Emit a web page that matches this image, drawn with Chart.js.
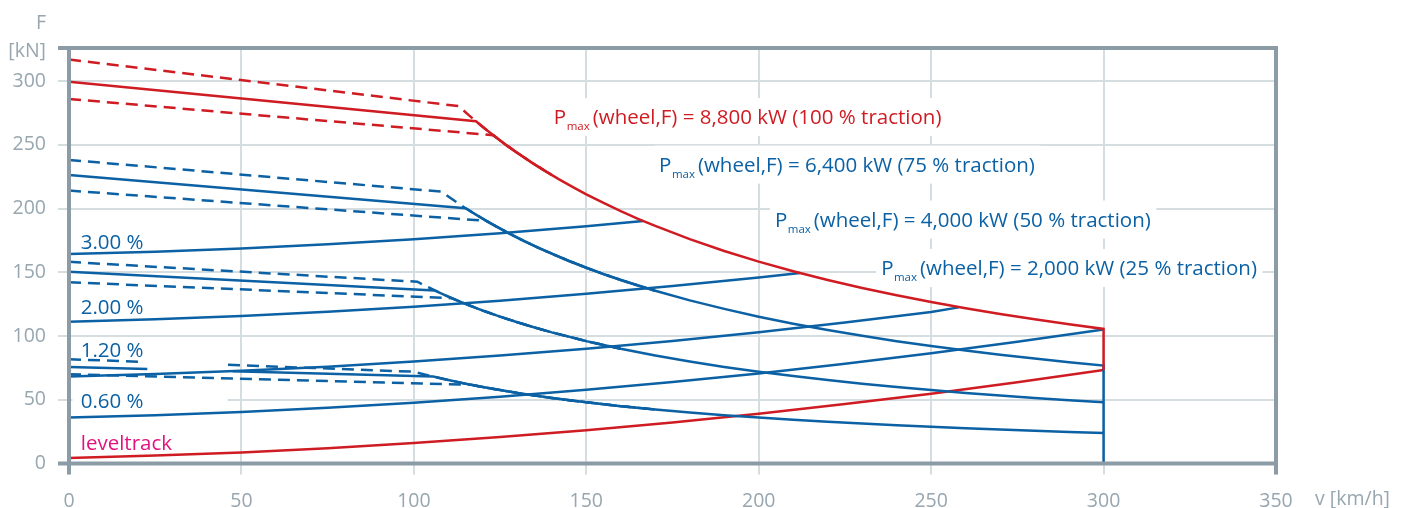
<!DOCTYPE html>
<html>
<head>
<meta charset="utf-8">
<title>Tractive effort diagram</title>
<script src="https://cdn.jsdelivr.net/npm/chart.js@4.4.1/dist/chart.umd.min.js"></script>
<style>
  html, body { margin: 0; background: #fff; }
  canvas { display: block; }
</style>
</head>
<body>
<canvas id="chartTraction" width="1405" height="508"></canvas>
<script>
// speeds in km/h, forces in kN

// 100 % traction (8,800 kW) with tolerance band
const RED_V    = [0, 118, 121, 124, 127, 130, 134, 138, 142, 146, 150, 155, 160, 165, 170, 180, 190, 200, 210, 220, 230, 240, 250, 260, 270, 280, 290, 300, 300];
const RED_F    = [299.5, 268.5, 261.8, 255.5, 249.4, 243.7, 236.4, 229.6, 223.1, 217.0, 211.2, 204.4, 198.0, 192.0, 186.4, 176.0, 166.7, 158.4, 150.9, 144.0, 137.7, 132.0, 126.7, 121.8, 117.3, 113.1, 109.2, 105.6, 73.4];
const RED_HI_V = [0, 113, 116, 120, 125, 130, 135, 140];
const RED_HI_F = [317.0, 280.4, 273.1, 264.0, 253.4, 243.7, 234.7, 226.3];
const RED_LO_V = [0, 123, 127, 130, 135, 140];
const RED_LO_F = [286.0, 257.6, 249.4, 243.7, 234.7, 226.3];

// 75 % traction (6,400 kW)
const B75_V    = [0, 115, 118, 121, 124, 128, 132, 136, 140, 145, 150, 155, 160, 170, 180, 190, 200, 210, 220, 230, 240, 250, 260, 270, 280, 290, 300, 300];
const B75_F    = [226.4, 200.3, 195.3, 190.4, 185.8, 180.0, 174.5, 169.4, 164.6, 158.9, 153.6, 148.6, 144.0, 135.5, 128.0, 121.3, 115.2, 109.7, 104.7, 100.2, 96.0, 92.2, 88.6, 85.3, 82.3, 79.4, 76.8, 0];
const B75_HI_V = [0, 108, 112, 115, 118, 121, 124, 128, 132, 136, 140, 145, 150, 155, 160, 165, 170];
const B75_HI_F = [238.2, 213.3, 205.7, 200.3, 195.3, 190.4, 185.8, 180.0, 174.5, 169.4, 164.6, 158.9, 153.6, 148.6, 144.0, 139.6, 135.5];
const B75_LO_V = [0, 121, 124, 128, 132, 136, 140, 145, 150, 155, 160, 165, 170];
const B75_LO_F = [214.1, 190.4, 185.8, 180.0, 174.5, 169.4, 164.6, 158.9, 153.6, 148.6, 144.0, 139.6, 135.5];

// 50 % traction (4,000 kW)
const B50_V    = [0, 106, 109, 112, 116, 120, 125, 130, 135, 140, 150, 160, 170, 180, 190, 200, 210, 220, 230, 240, 250, 260, 270, 280, 290, 300];
const B50_F    = [150.5, 135.8, 132.1, 128.6, 124.1, 120.0, 115.2, 110.8, 106.7, 102.9, 96.0, 90.0, 84.7, 80.0, 75.8, 72.0, 68.6, 65.5, 62.6, 60.0, 57.6, 55.4, 53.3, 51.4, 49.7, 48.0];
const B50_HI_V = [0, 101, 104, 107, 110, 115, 120, 125, 130, 135, 140, 150, 160];
const B50_HI_F = [158.2, 142.6, 138.5, 134.6, 130.9, 125.2, 120.0, 115.2, 110.8, 106.7, 102.9, 96.0, 90.0];
const B50_LO_V = [0, 111, 115, 120, 125, 130, 135, 140, 150, 160];
const B50_LO_F = [142.2, 129.7, 125.2, 120.0, 115.2, 110.8, 106.7, 102.9, 96.0, 90.0];

// 25 % traction (2,000 kW) - interrupted behind the grade label
const B25_V    = [0, 22.7, 35, 47.5, 105.6, 110, 115, 120, 125, 130, 140, 150, 160, 170, 180, 190, 200, 210, 220, 230, 240, 250, 260, 270, 280, 290, 300];
const B25_F    = [75.7, 74.1, null, 72.3, 68.2, 65.5, 62.6, 60.0, 57.6, 55.4, 51.4, 48.0, 45.0, 42.4, 40.0, 37.9, 36.0, 34.3, 32.7, 31.3, 30.0, 28.8, 27.7, 26.7, 25.7, 24.8, 24.0];
const B25_HI_V = [0, 21.7, 35, 46.1, 100, 105, 110, 115, 120, 125, 130, 140, 150, 160, 170];
const B25_HI_F = [81.8, 79.7, null, 77.4, 72.0, 68.6, 65.5, 62.6, 60.0, 57.6, 55.4, 51.4, 48.0, 45.0, 42.4];
const B25_LO_V = [0, 116.7, 120, 125, 130, 140, 150, 160, 170];
const B25_LO_F = [70.0, 61.7, 60.0, 57.6, 55.4, 51.4, 48.0, 45.0, 42.4];

// running resistance on grades
const RES_V   = [0, 25, 50, 75, 100, 125, 150, 175, 200, 225, 250, 275, 300];
const LEVEL_F = [4.3, 6.2, 8.7, 12.0, 16.0, 20.7, 26.1, 32.2, 39.0, 46.6, 54.8, 63.8, 73.4];
const G060_F  = [36.0, 37.9, 40.4, 43.7, 47.7, 52.4, 57.8, 63.9, 70.7, 78.3, 86.5, 95.5, 105.1];
const G120_V  = [0, 25, 50, 75, 100, 125, 150, 175, 200, 225, 250, 258];
const G120_F  = [68.3, 70.2, 72.7, 76.0, 80.0, 84.7, 90.1, 96.2, 103.0, 110.6, 118.8, 122.5];
const G200_V  = [0, 25, 50, 75, 100, 125, 150, 175, 200, 212];
const G200_F  = [111.3, 113.2, 115.7, 119.0, 123.0, 127.7, 133.1, 139.2, 146.0, 149.5];
const G300_V  = [0, 25, 50, 75, 100, 125, 150, 166.5];
const G300_F  = [164.3, 166.2, 168.7, 172.0, 176.0, 180.7, 186.1, 190.2];

const X_TICKS = [0, 50, 100, 150, 200, 250, 300, 350];
const Y_TICKS = [0, 50, 100, 150, 200, 250, 300];

const RED     = '#cf1b22';
const BLUE    = '#0b61a4';
const MAGENTA = '#e2137e';
const GREY    = '#97a6af';
const FRAME   = '#8b9ca6';
const GRID    = '#d6dde1';
const FONT    = '"Open Sans", sans-serif';
const LBL_PX  = 20.5;

function pts(vs, fs) {
  return vs.map((v, i) => ({ x: v, y: fs[i] }));
}

function curve(vs, fs, color, dashed) {
  return {
    data: pts(vs, fs),
    borderColor: color,
    borderWidth: 2.5,
    borderDash: dashed ? [12, 7] : [],
    pointRadius: 0,
    tension: 0,
    spanGaps: false,
    fill: false
  };
}

// text labels placed in data coordinates
const GRADE_LABELS = [
  { text: '3.00 %', v: 3.4, f: 168.6, color: BLUE },
  { text: '2.00 %', v: 3.4, f: 117.5, color: BLUE },
  { text: '1.20 %', v: 3.4, f: 83.3,  color: BLUE },
  { text: '0.60 %', v: 3.4, f: 43.6,  color: BLUE },
  { text: 'leveltrack', v: 3.4, f: 10.2, color: MAGENTA }
];
const PMAX_LABELS = [
  { rest: '(wheel,F) = 8,800 kW (100 % traction)', v: 140.6, f: 266.3, color: RED },
  { rest: '(wheel,F) = 6,400 kW (75 % traction)',  v: 171.1, f: 229.0, color: BLUE },
  { rest: '(wheel,F) = 4,000 kW (50 % traction)',  v: 204.7, f: 185.9, color: BLUE },
  { rest: '(wheel,F) = 2,000 kW (25 % traction)',  v: 235.5, f: 147.9, color: BLUE }
];

const labelPlugin = {
  id: 'labels',
  beforeDatasetsDraw(chart) {
    const { ctx, scales: { x, y } } = chart;
    ctx.save();
    ctx.textBaseline = 'alphabetic';
    ctx.textAlign = 'left';

    // white patch behind the 0.60 % label
    ctx.fillStyle = '#fff';
    ctx.fillRect(x.getPixelForValue(1), y.getPixelForValue(63), x.getPixelForValue(46) - x.getPixelForValue(1), y.getPixelForValue(40) - y.getPixelForValue(63));

    PMAX_LABELS.forEach(l => {
      const px = x.getPixelForValue(l.v);
      const py = y.getPixelForValue(l.f);
      ctx.font = `${LBL_PX}px ${FONT}`;
      const wP = ctx.measureText('P').width;
      const wR = ctx.measureText(l.rest).width;
      ctx.font = `11.5px ${FONT}`;
      const wM = ctx.measureText('max').width;
      const total = wP + 1 + wM + 3 + wR;
      ctx.fillStyle = '#fff';
      ctx.fillRect(px - 5, py - 26, total + 10, 38);
      ctx.fillStyle = l.color;
      ctx.font = `${LBL_PX}px ${FONT}`;
      ctx.fillText('P', px, py);
      ctx.font = `11.5px ${FONT}`;
      ctx.fillText('max', px + wP + 0.5, py + 6);
      ctx.font = `${LBL_PX}px ${FONT}`;
      ctx.fillText(l.rest, px + wP + 0.5 + wM + 3, py);
    });

    GRADE_LABELS.forEach(l => {
      ctx.font = `${LBL_PX}px ${FONT}`;
      ctx.fillStyle = l.color;
      ctx.fillText(l.text, x.getPixelForValue(l.v), y.getPixelForValue(l.f));
    });
    ctx.restore();
  },
  afterDraw(chart) {
    const { ctx, chartArea: a } = chart;
    ctx.save();
    // heavy frame round the plot
    ctx.strokeStyle = FRAME;
    ctx.lineWidth = 4;
    ctx.beginPath();
    ctx.moveTo(a.left - 11, a.top);    ctx.lineTo(a.right + 2, a.top);
    ctx.moveTo(a.left - 11, a.bottom); ctx.lineTo(a.right + 2, a.bottom);
    ctx.moveTo(a.left, a.top - 2);     ctx.lineTo(a.left, a.bottom + 11);
    ctx.moveTo(a.right, a.top - 2);    ctx.lineTo(a.right, a.bottom + 11);
    ctx.stroke();

    // axis titles
    ctx.fillStyle = GREY;
    ctx.font = `19.5px ${FONT}`;
    ctx.textBaseline = 'alphabetic';
    ctx.textAlign = 'right';
    ctx.fillText('F', 46, 29);
    ctx.fillText('[kN]', 46, 57);
    ctx.textAlign = 'left';
    ctx.fillText('v [km/h]', 1315, 505);
    ctx.restore();
  }
};

new Chart(document.getElementById('chartTraction'), {
  type: 'line',
  data: {
    datasets: [
      curve(RED_V, RED_F, RED, false),
      curve(RED_HI_V, RED_HI_F, RED, true),
      curve(RED_LO_V, RED_LO_F, RED, true),
      curve(B75_V, B75_F, BLUE, false),
      curve(B75_HI_V, B75_HI_F, BLUE, true),
      curve(B75_LO_V, B75_LO_F, BLUE, true),
      curve(B50_V, B50_F, BLUE, false),
      curve(B50_HI_V, B50_HI_F, BLUE, true),
      curve(B50_LO_V, B50_LO_F, BLUE, true),
      curve(B25_V, B25_F, BLUE, false),
      curve(B25_HI_V, B25_HI_F, BLUE, true),
      curve(B25_LO_V, B25_LO_F, BLUE, true),
      curve(RES_V, LEVEL_F, RED, false),
      curve(RES_V, G060_F, BLUE, false),
      curve(G120_V, G120_F, BLUE, false),
      curve(G200_V, G200_F, BLUE, false),
      curve(G300_V, G300_F, BLUE, false)
    ]
  },
  options: {
    responsive: false,
    animation: false,
    layout: { padding: { left: 0, top: 48, right: 129, bottom: 0 } },
    plugins: { legend: { display: false }, tooltip: { enabled: false } },
    scales: {
      x: {
        type: 'linear',
        min: 0,
        max: 350,
        afterBuildTicks: s => { s.ticks = X_TICKS.map(v => ({ value: v })); },
        afterFit: s => { s.height = 44.5; },
        ticks: { color: GREY, font: { family: FONT, size: 19.5 }, padding: 15, maxRotation: 0 },
        grid: { color: GRID, lineWidth: 2, tickLength: 11 },
        border: { display: false }
      },
      y: {
        min: 0,
        max: 326,
        afterBuildTicks: s => { s.ticks = Y_TICKS.map(v => ({ value: v })); },
        afterFit: s => { s.width = 69; },
        ticks: { color: GREY, font: { family: FONT, size: 19.5 }, padding: 12 },
        grid: { color: GRID, lineWidth: 2, tickLength: 11 },
        border: { display: false }
      }
    }
  },
  plugins: [labelPlugin]
});
</script>
</body>
</html>
